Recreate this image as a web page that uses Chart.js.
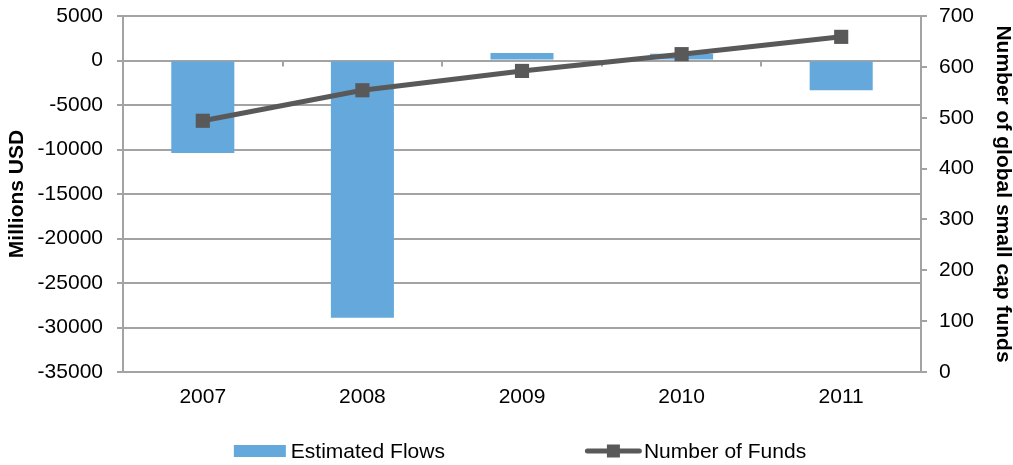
<!DOCTYPE html>
<html>
<head>
<meta charset="utf-8">
<script src="https://cdn.jsdelivr.net/npm/chart.js@4/dist/chart.umd.min.js"></script>
<style>
  html, body { margin: 0; padding: 0; background: #ffffff; }
  #wrap { width: 1013px; height: 465px; }
</style>
</head>
<body>
<div id="wrap"><canvas id="c" width="1013" height="465"></canvas></div>
<script>
// Global small cap funds: yearly estimated flows and number of funds
const years = ['2007', '2008', '2009', '2010', '2011'];
const estimatedFlows = [-10400, -28900, 850, 750, -3350];   // millions USD
const numberOfFunds = [494, 554, 592, 625, 659];

const flowsTicks = { min: -35000, max: 5000, step: 5000 };
const fundsTicks = { min: 0, max: 700, step: 100 };

const FONT = "'Liberation Sans', Arial, sans-serif";
const FS = 21;
const GRID = '#a3a3a3';
const BAR = '#65a8dc';
const LINE = '#595959';

// Short tick marks on the zero line between categories
const zeroLineTicks = {
  id: 'zeroLineTicks',
  beforeDatasetsDraw(chart) {
    const x = chart.scales.x, y = chart.scales.y;
    const y0 = y.getPixelForValue(0);
    const ctx = chart.ctx;
    ctx.save();
    ctx.strokeStyle = GRID;
    ctx.lineWidth = 2;
    for (let i = 1; i < years.length; i++) {
      const px = Math.round((x.getPixelForValue(i - 1) + x.getPixelForValue(i)) / 2);
      ctx.beginPath();
      ctx.moveTo(px, y0);
      ctx.lineTo(px, y0 + 6);
      ctx.stroke();
    }
    ctx.restore();
  }
};

// Bottom legend: bar swatch and line-with-marker sample
const bottomLegend = {
  id: 'bottomLegend',
  afterDraw(chart) {
    const ctx = chart.ctx;
    const ds = chart.data.datasets;
    const area = chart.chartArea;
    ctx.save();
    ctx.font = FS + 'px ' + FONT;
    ctx.textBaseline = 'middle';
    ctx.textAlign = 'left';
    const w1 = ctx.measureText(ds[0].label).width;
    const w2 = ctx.measureText(ds[1].label).width;
    const box = 52, gap1 = 5, lineLen = 57, gap2 = 2, between = 140;
    const total = box + gap1 + w1 + between + lineLen + gap2 + w2;
    let x = (area.left + area.right) / 2 - total / 2 - 2;
    const y = 451;
    ctx.fillStyle = ds[0].backgroundColor;
    ctx.fillRect(x, y - 6, box, 12);
    x += box + gap1;
    ctx.fillStyle = '#000';
    ctx.fillText(ds[0].label, x, y + 1);
    x += w1 + between;
    ctx.strokeStyle = ds[1].borderColor;
    ctx.lineWidth = 5;
    ctx.lineCap = 'round';
    ctx.beginPath();
    ctx.moveTo(x + 2.5, y);
    ctx.lineTo(x + lineLen - 2.5, y);
    ctx.stroke();
    ctx.fillStyle = ds[1].borderColor;
    ctx.fillRect(x + lineLen / 2 - 6.5, y - 6.5, 13, 13);
    x += lineLen + gap2;
    ctx.fillStyle = '#000';
    ctx.fillText(ds[1].label, x, y + 1);
    ctx.restore();
  }
};

function fixVertical(width) {
  return s => { s.width = width; s.paddingTop = 0; s.paddingBottom = 0; };
}

new Chart(document.getElementById('c'), {
  data: {
    labels: years,
    datasets: [
      {
        type: 'bar',
        label: 'Estimated Flows',
        data: estimatedFlows,
        backgroundColor: BAR,
        yAxisID: 'y',
        order: 2,
        categoryPercentage: 1,
        barPercentage: 0.395
      },
      {
        type: 'line',
        label: 'Number of Funds',
        data: numberOfFunds,
        borderColor: LINE,
        backgroundColor: LINE,
        borderWidth: 5,
        pointStyle: 'rect',
        pointRadius: 10,
        pointBorderWidth: 0,
        pointBackgroundColor: LINE,
        tension: 0,
        yAxisID: 'y1',
        order: 1
      }
    ]
  },
  options: {
    responsive: false,
    animation: false,
    devicePixelRatio: 1,
    layout: { padding: { top: 16, bottom: 43, left: 0, right: 0 } },
    plugins: { legend: { display: false }, tooltip: { enabled: false } },
    scales: {
      x: {
        grid: { display: false, drawTicks: false },
        border: { display: false },
        ticks: { color: '#000', font: { family: FONT, size: FS }, padding: 13 },
        afterFit(s) { s.height = 50; s.paddingLeft = 0; s.paddingRight = 0; }
      },
      y: {
        position: 'left',
        min: flowsTicks.min,
        max: flowsTicks.max,
        ticks: {
          stepSize: flowsTicks.step,
          color: '#000',
          font: { family: FONT, size: FS },
          padding: 14,
          callback: v => String(v)
        },
        grid: { color: GRID, lineWidth: 2, tickLength: 6 },
        border: { color: GRID, width: 2 },
        title: {
          display: true,
          text: 'Millions USD',
          color: '#000',
          font: { family: FONT, size: FS, weight: 'bold', lineHeight: 1 },
          padding: { top: 7, bottom: 0 }
        },
        afterFit: fixVertical(123)
      },
      y1: {
        position: 'right',
        min: fundsTicks.min,
        max: fundsTicks.max,
        ticks: {
          stepSize: fundsTicks.step,
          color: '#000',
          font: { family: FONT, size: FS },
          padding: 12,
          callback: v => String(v)
        },
        grid: { drawOnChartArea: false, color: GRID, lineWidth: 2, tickLength: 6 },
        border: { color: GRID, width: 2 },
        title: {
          display: true,
          text: 'Number of global small cap funds',
          color: '#000',
          font: { family: FONT, size: FS, weight: 'bold', lineHeight: 1 },
          padding: { top: 0, bottom: 0 }
        },
        afterFit: fixVertical(92)
      }
    }
  },
  plugins: [zeroLineTicks, bottomLegend]
});
</script>
</body>
</html>
